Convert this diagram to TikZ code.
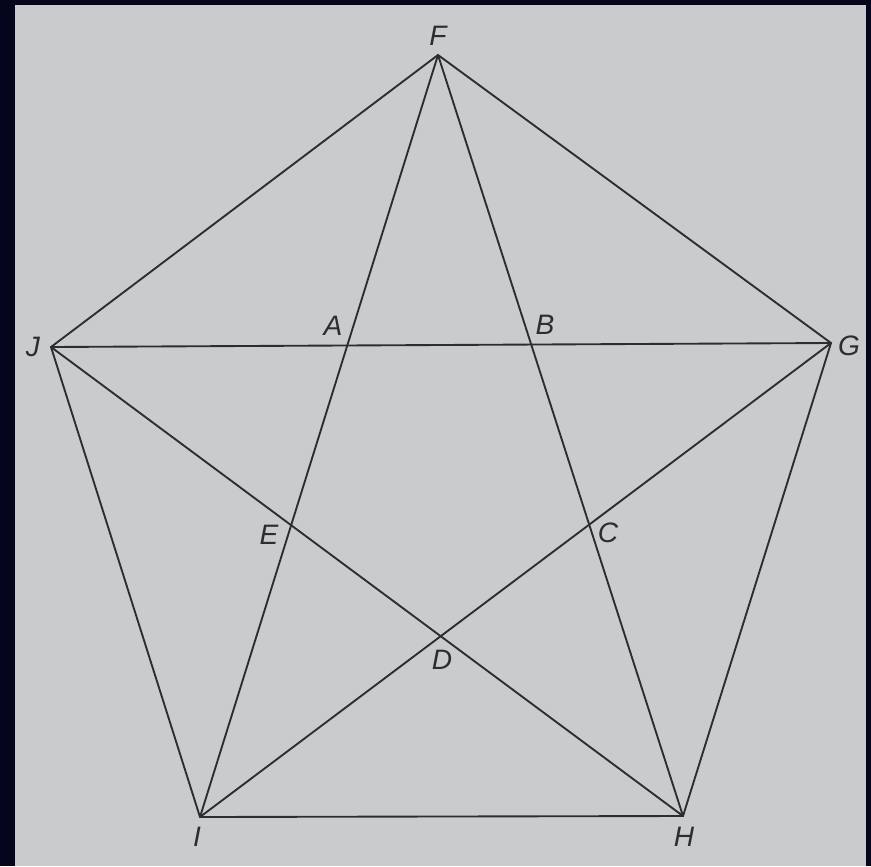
\documentclass[tikz,border=0pt]{standalone}
\usepackage{fontspec}
\setsansfont{Liberation Sans}
\usetikzlibrary{positioning}
\definecolor{PgFrame}{RGB}{5, 5, 30}
\definecolor{PgPaper}{RGB}{202, 203, 204}
\definecolor{PgInk}{RGB}{45, 45, 48}
\begin{document}
\begin{tikzpicture}[
  x=0.03cm, y=-0.03cm,
  every node/.style={font=\sffamily\itshape\fontsize{24}{28}\selectfont, text=PgInk},
  edge/.style={draw=PgInk, line width=1.6pt, line join=miter},
  lbl/.style={inner sep=0pt}
]
  %% Frame and page
  \fill[PgFrame] (0,0) rectangle (871,866);
  \fill[PgPaper] (15,5) rectangle (866,866);
  \useasboundingbox (0,0) rectangle (871,866);

  %% Pentagon vertices
  \coordinate (F) at (438, 55);
  \coordinate (G) at (831,343);
  \coordinate (H) at (683,816);
  \coordinate (I) at (200,817);
  \coordinate (J) at ( 51,347);

  %% Sides
  \draw[edge] (F) -- (G) -- (H) -- (I) -- (J) -- cycle;

  %% Diagonals
  \draw[edge] (J) -- (G);
  \draw[edge] (F) -- (I);
  \draw[edge] (F) -- (H);
  \draw[edge] (J) -- (H);
  \draw[edge] (I) -- (G);

  %% Vertex labels
  \node[lbl] (lF) at (438, 36) {F};
  \node[lbl] (lG) at (849,346) {G};
  \node[lbl] (lH) at (684,837) {H};
  \node[lbl] (lI) at (197,837) {I};
  \node[lbl] (lJ) at ( 33,347) {J};

  %% Inner star points
  \node[lbl] (lA) at (333,326) {A};
  \node[lbl] (lB) at (545,325) {B};
  \node[lbl] (lC) at (608,533) {C};
  \node[lbl] (lD) at (442,660) {D};
  \node[lbl] (lE) at (269,535) {E};
\end{tikzpicture}
\end{document}
